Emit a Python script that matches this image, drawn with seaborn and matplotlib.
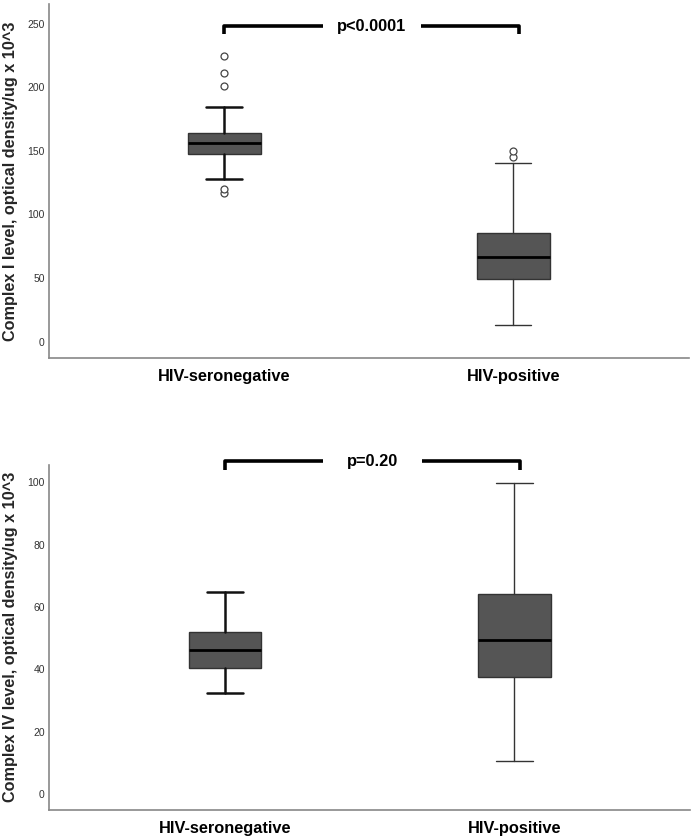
import matplotlib
matplotlib.use("Agg")
import matplotlib.pyplot as plt
import seaborn as sns

# ---------------- DATA ----------------

groups = ["HIV-seronegative", "HIV-positive"]

# Complex I (box summaries)
c1_q1 = [147.6, 49.0]
c1_med = [155.8, 66.5]
c1_q3 = [164.1, 85.6]
c1_lo = [127.8, 13.3]
c1_hi = [184.0, 140.3]
c1_fliers = [[116.6, 119.7, 200.8, 211.2, 224.3], [144.8, 150.0]]
c1_p = "p<0.0001"

# Complex IV
c4_q1 = [40.5, 37.6]
c4_med = [46.2, 49.5]
c4_q3 = [51.9, 64.1]
c4_lo = [32.4, 10.7]
c4_hi = [64.7, 99.8]
c4_fliers = [[], []]
c4_p = "p=0.20"

sns.set_style("white")
plt.rcParams["font.family"] = ["Liberation Sans", "DejaVu Sans"]


def make_stats(q1, med, q3, lo, hi, fliers):
    return [
        {"q1": q1[i], "med": med[i], "q3": q3[i], "whislo": lo[i],
         "whishi": hi[i], "fliers": fliers[i], "label": groups[i]}
        for i in range(len(groups))
    ]


def draw_panel(ax, stats, ylim, yticks, ylabel, p_text, br_y, br_drop, gap):
    bp = ax.bxp(
        stats, positions=[0, 1], widths=0.25, patch_artist=True,
        showfliers=True,
        boxprops=dict(facecolor="#555555", edgecolor="#333333", linewidth=1.0),
        medianprops=dict(color="black", linewidth=2.0),
        whiskerprops=dict(color="#333333", linewidth=1.0),
        capprops=dict(color="#333333", linewidth=1.0),
        flierprops=dict(marker="o", markerfacecolor="white",
                        markeredgecolor="#444444", markersize=5,
                        markeredgewidth=0.9),
        capwidths=0.125,
    )
    # first box is drawn heavier in the original
    for ln in bp["whiskers"][:2] + bp["caps"][:2]:
        ln.set_color("#111111")
        ln.set_linewidth(1.8)

    ax.set_xlim(-0.607, 1.607)
    ax.set_ylim(*ylim)
    ax.set_yticks(yticks)
    ax.set_xticks([0, 1])
    ax.set_xticklabels(groups, fontsize=11.8, fontweight="bold")
    ax.tick_params(axis="y", labelsize=7.5, colors="#333333", length=0, pad=3)
    ax.tick_params(axis="x", length=0, pad=8)
    for lab in ax.get_xticklabels():
        lab.set_color("black")
    ax.set_ylabel(ylabel, fontsize=11.7, fontweight="bold")
    ax.yaxis.set_label_coords(-0.048, 0.5)

    sns.despine(ax=ax)
    for s in ["left", "bottom"]:
        ax.spines[s].set_color("#888888")
        ax.spines[s].set_linewidth(1.2)

    # significance bracket
    x0, x1 = 0.0, 1.02
    xm = (x0 + x1) / 2
    kw = dict(color="black", linewidth=2.6, clip_on=False,
              solid_capstyle="butt")
    ax.plot([x0, x0, xm - gap], [br_y - br_drop, br_y, br_y], **kw)
    ax.plot([xm + gap, x1, x1], [br_y, br_y, br_y - br_drop], **kw)
    ax.text(xm, br_y, p_text, ha="center", va="center", fontsize=11.8,
            fontweight="bold", color="black", clip_on=False)


fig = plt.figure(figsize=(7, 8.4), dpi=100)
ax1 = fig.add_axes([0.070, 0.574, 0.914, 0.421])
ax2 = fig.add_axes([0.070, 0.036, 0.916, 0.411])

draw_panel(
    ax1, make_stats(c1_q1, c1_med, c1_q3, c1_lo, c1_hi, c1_fliers),
    (-12.8, 265.2), [0, 50, 100, 150, 200, 250],
    "Complex I level, optical density/ug x 10^3", c1_p,
    248.0, 6.5, 0.17,
)
draw_panel(
    ax2, make_stats(c4_q1, c4_med, c4_q3, c4_lo, c4_hi, c4_fliers),
    (-5.1, 105.7), [0, 20, 40, 60, 80, 100],
    "Complex IV level, optical density/ug x 10^3", c4_p,
    106.7, 2.8, 0.17,
)

fig.savefig("out.png", dpi=100)
